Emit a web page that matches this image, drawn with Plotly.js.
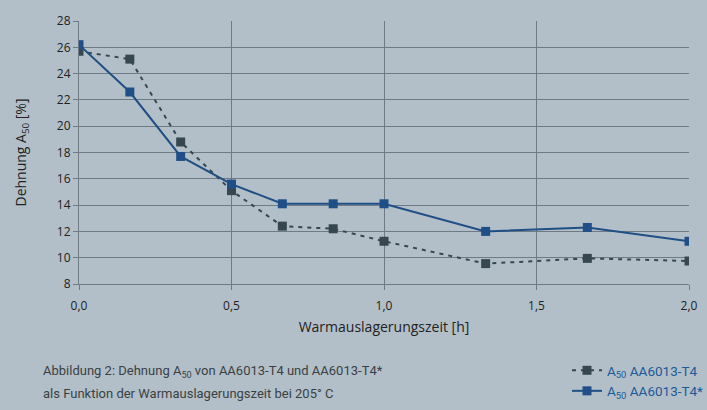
<!DOCTYPE html>
<html>
<head>
<meta charset="utf-8">
<script src="https://cdn.plot.ly/plotly-3.0.1.min.js"></script>
<style>
html,body{margin:0;padding:0;background:#b3bfc8;}
#chart{width:707px;height:410px;}
</style>
</head>
<body>
<div id="chart"></div>
<script>
const timeH = [0, 1/6, 1/3, 0.5, 2/3, 5/6, 1.0, 4/3, 5/3, 2.0];
const dehnungT4 = [25.7, 25.1, 18.8, 15.1, 12.4, 12.2, 11.25, 9.55, 9.95, 9.75];
const dehnungT4Star = [26.2, 22.6, 17.7, 15.6, 14.1, 14.1, 14.1, 12.0, 12.3, 11.25];
const seriesNames = ["A<sub>50</sub> AA6013-T4", "A<sub>50</sub> AA6013-T4*"];
const xTicks = [0, 0.5, 1.0, 1.5, 2.0];
const xTickLabels = ["0,0", "0,5", "1,0", "1,5", "2,0"];
const yTicks = [8, 10, 12, 14, 16, 18, 20, 22, 24, 26, 28];
const captionLines = ["Abbildung 2: Dehnung A<sub>50</sub> von AA6013-T4 und AA6013-T4*",
                      "als Funktion der Warmauslagerungszeit bei 205° C"];

const tickFont = {family: "Open Sans, Noto Sans, sans-serif", size: 12, color: "#222"};
const titleFont = {family: "Open Sans, Noto Sans, sans-serif", size: 14, color: "#222"};
const narrow = "Roboto, Liberation Sans, sans-serif";
const captionFont = {family: narrow, size: 13, color: "#3a3f44"};

const traces = [
  {x: timeH, y: dehnungT4, name: seriesNames[0], mode: "lines+markers",
   line: {color: "#37474f", width: 2, dash: "4px,5px"},
   marker: {symbol: "square", size: 9, color: "#37474f"}},
  {x: timeH, y: dehnungT4Star, name: seriesNames[1], mode: "lines+markers",
   line: {color: "#1f4f86", width: 2},
   marker: {symbol: "square", size: 9, color: "#1f4f86"}}
];

const layout = {
  width: 707, height: 410,
  paper_bgcolor: "#b3bfc8", plot_bgcolor: "#b3bfc8",
  margin: {l: 79, r: 18, t: 21, b: 126, autoexpand: false},
  showlegend: true,
  legend: {x: 0.8, xanchor: "left", y: -0.27, yanchor: "top", bgcolor: "rgba(0,0,0,0)",
           font: {family: narrow, size: 13.5, color: "#1a5a99"},
           tracegroupgap: 0, itemwidth: 30},
  xaxis: {range: [0, 2], tickvals: xTicks, ticktext: xTickLabels, showgrid: true,
          gridcolor: "#6e7b84", gridwidth: 1, showline: true, linecolor: "#6e7b84",
          mirror: false, ticks: "outside", ticklen: 5, tickcolor: "#6e7b84",
          tickfont: tickFont, zeroline: false, automargin: false, ticklabelstandoff: 6,
          title: {text: "Warmauslagerungszeit [h]", font: titleFont, standoff: 8}},
  yaxis: {range: [8, 28], tickvals: yTicks, showgrid: true, gridcolor: "#6e7b84", gridwidth: 1,
          showline: true, linecolor: "#6e7b84", ticks: "outside", ticklen: 5, tickcolor: "#6e7b84",
          tickfont: tickFont, zeroline: false, automargin: false,
          title: {text: "Dehnung A<sub>50</sub> [%]", font: titleFont, standoff: 26}},
  annotations: captionLines.map((t, i) => ({
    xref: "paper", yref: "paper", x: -0.062, y: -0.293 - i * 0.087, xanchor: "left", yanchor: "top",
    align: "left", showarrow: false, font: captionFont, text: t
  }))
};

Plotly.newPlot("chart", traces, layout, {displayModeBar: false, staticPlot: true});
</script>
</body>
</html>
